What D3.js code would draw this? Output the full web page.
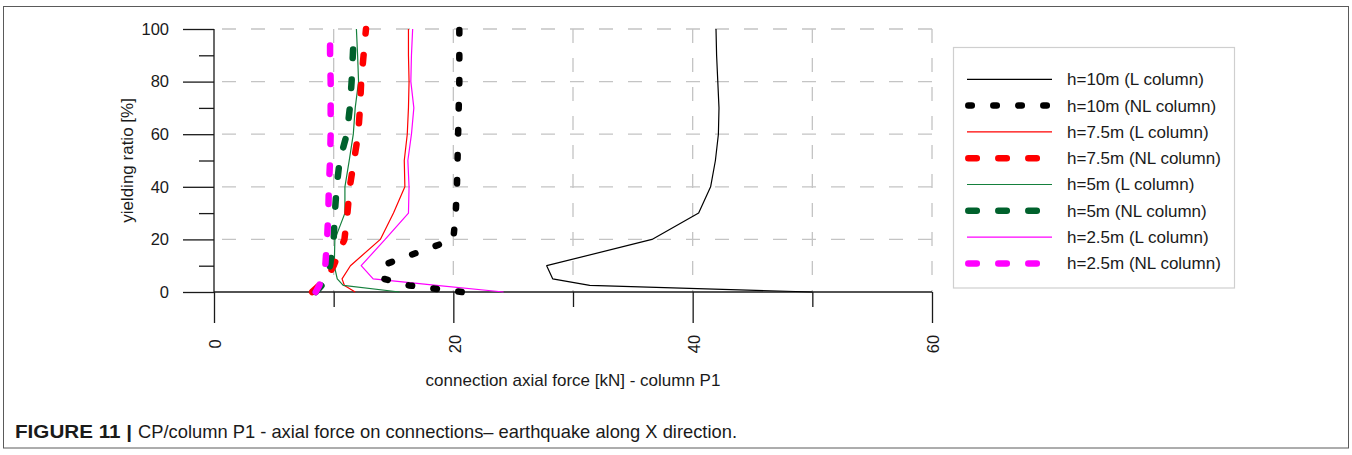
<!DOCTYPE html>
<html>
<head>
<meta charset="utf-8">
<script src="https://cdn.jsdelivr.net/npm/d3@7"></script>
<style>
  html, body { margin: 0; padding: 0; background: #fff; }
  svg { display: block; }
  text { font-family: "Liberation Sans", Arial, sans-serif; fill: #1a1a1a; }
</style>
</head>
<body>
<svg id="chart" width="1352" height="455"></svg>
<script>
// Yielding ratio levels (%) at which the connection force was recorded
const yieldLevels = [0, 2.5, 5, 10, 20, 30, 40, 50, 60, 70, 80, 90, 100];

// Connection axial force [kN], one value per yielding level
const h10_L  = [50.0, 31.4, 28.3, 27.8, 36.6, 40.5, 41.5, 41.9, 42.15, 42.2, 42.1, 42.0, 41.95];
const h10_NL = [20.7, 16.3, 14.2, 14.0, 20.0, 20.2, 20.3, 20.35, 20.4, 20.45, 20.5, 20.5, 20.5];
const h75_L  = [11.8, 10.9, 10.7, 11.4, 13.9, 15.0, 15.95, 15.9, 16.15, 16.25, 16.3, 16.25, 16.25];
const h75_NL = [8.2, 8.8, 9.4, 10.0, 10.9, 11.15, 11.35, 11.7, 12.05, 12.2, 12.3, 12.5, 12.7];
const h5_L   = [15.5, 10.8, 10.3, 10.05, 10.1, 10.94, 10.94, 11.3, 11.64, 11.8, 12.08, 12.0, 11.9];
const h5_NL  = [8.5, 9.0, 9.4, 9.7, 10.0, 10.1, 10.25, 10.5, 11.1, 11.35, 11.5, 11.6, 11.7];
const h25_L  = [24.2, 18.6, 13.3, 12.3, 14.3, 16.25, 16.3, 16.2, 16.5, 16.7, 16.45, 16.5, 16.6];
const h25_NL = [8.5, 8.8, 9.0, 9.3, 9.45, 9.55, 9.6, 9.7, 9.75, 9.75, 9.75, 9.7, 9.7];

const seriesNames = [
  "h=10m (L column)", "h=10m (NL column)",
  "h=7.5m (L column)", "h=7.5m (NL column)",
  "h=5m (L column)", "h=5m (NL column)",
  "h=2.5m (L column)", "h=2.5m (NL column)"
];

const xMajorTicks = [0, 20, 40, 60];
const xMinorTicks = [10, 30, 50];
const xGridTicks = [10, 20, 30, 40, 50, 60];
const yMajorTicks = [0, 20, 40, 60, 80, 100];
const yMinorTicks = [10, 30, 50, 70, 90];
const yGridTicks = [20, 40, 60, 80, 100];

const xTitle = "connection axial force [kN] - column P1";
const yTitle = "yielding ratio [%]";
const captionBold = "FIGURE 11 |";
const captionText = "CP/column P1 - axial force on connections\u2013 earthquake along X direction.";

// Line styles: thin solid for linear columns, thick rounded dashes for non-linear ones
const styles = [
  { color: "#000000", width: 1.2, dash: null },
  { color: "#000000", width: 6.5, dash: "3.5 21.5" },
  { color: "#ff0000", width: 1.2, dash: null },
  { color: "#ff0000", width: 6.5, dash: "8.5 21.5" },
  { color: "#15803d", width: 1.2, dash: null },
  { color: "#00612c", width: 6.5, dash: "8.5 21.5" },
  { color: "#ff00ff", width: 1.2, dash: null },
  { color: "#ff00ff", width: 6.5, dash: "8.5 21.5" }
];
const seriesValues = [h10_L, h10_NL, h75_L, h75_NL, h5_L, h5_NL, h25_L, h25_NL];

const svg = d3.select("#chart");

// Figure frame
svg.append("rect")
  .attr("x", 3.5).attr("y", 6.5).attr("width", 1345).attr("height", 441.5)
  .attr("fill", "none").attr("stroke", "#5a5a5a").attr("stroke-width", 1);

const x = d3.scaleLinear().domain([0, 60]).range([214, 932]);
const y = d3.scaleLinear().domain([0, 100]).range([292, 29]);

// Dashed grid
const grid = svg.append("g").attr("stroke", "#c4c4c4").attr("stroke-width", 1.3)
  .attr("stroke-dasharray", "14 15").attr("fill", "none");
grid.selectAll("line.h").data(yGridTicks).join("line")
  .attr("x1", x(60)).attr("x2", x(0))
  .attr("y1", d => y(d)).attr("y2", d => y(d));
grid.selectAll("line.v").data(xGridTicks).join("line")
  .attr("x1", d => x(d)).attr("x2", d => x(d))
  .attr("y1", y(100)).attr("y2", y(0));

// Y axis (major and minor ticks)
const yAxisG = svg.append("g").attr("transform", `translate(${x(0)},0)`);
yAxisG.call(d3.axisLeft(y).tickValues(yMajorTicks).tickSize(31).tickPadding(14).tickFormat(d3.format("d")))
  .call(g => g.select(".domain").remove());
yAxisG.append("g").call(d3.axisLeft(y).tickValues(yMinorTicks).tickSize(15).tickFormat(""))
  .call(g => g.select(".domain").remove());
yAxisG.selectAll("line").attr("stroke", "#1a1a1a").attr("stroke-width", 1.3);
yAxisG.selectAll("text").attr("font-size", 16.5).attr("fill", "#1a1a1a")
  .style("font-family", '"Liberation Sans", Arial, sans-serif');

// X axis hanging below the zero line, rotated labels
const xAxisG = svg.append("g").attr("transform", `translate(0,${y(0)})`);
xAxisG.call(d3.axisBottom(x).tickValues(xMajorTicks).tickSize(31).tickFormat(d3.format("d")))
  .call(g => g.select(".domain").remove());
xAxisG.append("g").call(d3.axisBottom(x).tickValues(xMinorTicks).tickSize(15).tickFormat(""))
  .call(g => g.select(".domain").remove());
xAxisG.selectAll("line").attr("stroke", "#1a1a1a").attr("stroke-width", 1.3);
xAxisG.selectAll(".tick text")
  .attr("x", 0).attr("y", 0).attr("dy", "0.35em")
  .attr("transform", "translate(1,52) rotate(-90)")
  .attr("text-anchor", "middle")
  .attr("font-size", 16.5).attr("fill", "#1a1a1a")
  .style("font-family", '"Liberation Sans", Arial, sans-serif');

// Axis lines: vertical y axis and the zero baseline
svg.append("line")
  .attr("x1", x(0)).attr("x2", x(0)).attr("y1", y(100)).attr("y2", y(0))
  .attr("stroke", "#1a1a1a").attr("stroke-width", 1.3);
svg.append("line")
  .attr("x1", x(0)).attr("x2", x(60)).attr("y1", y(0)).attr("y2", y(0))
  .attr("stroke", "#1a1a1a").attr("stroke-width", 1.3);

// Axis titles
svg.append("text")
  .attr("x", (x(0) + x(60)) / 2).attr("y", 380).attr("dy", "0.35em")
  .attr("text-anchor", "middle").attr("font-size", 17)
  .text(xTitle);
svg.append("text")
  .attr("transform", `translate(127,${(y(0) + y(100)) / 2}) rotate(-90)`)
  .attr("dy", "0.35em").attr("text-anchor", "middle").attr("font-size", 17)
  .text(yTitle);

// Data lines: solid series first, dashed series on top
const line = d3.line().x(d => x(d[0])).y(d => y(d[1]));
const drawOrder = [0, 2, 4, 6, 1, 3, 5, 7];
const plotG = svg.append("g");
drawOrder.forEach(i => {
  const pts = yieldLevels.map((lv, k) => [seriesValues[i][k], lv]);
  const st = styles[i];
  plotG.append("path")
    .attr("d", line(pts))
    .attr("fill", "none")
    .attr("stroke", st.color)
    .attr("stroke-width", st.width)
    .attr("stroke-linecap", st.dash ? "round" : "butt")
    .attr("stroke-linejoin", "round")
    .attr("stroke-dasharray", st.dash);
});

// Legend
const legend = svg.append("g");
legend.append("rect")
  .attr("x", 953.5).attr("y", 47.5).attr("width", 281).attr("height", 240.5)
  .attr("fill", "#fff").attr("stroke", "#cfcfcf").attr("stroke-width", 1.2);
seriesNames.forEach((name, i) => {
  const ly = 79.3 + i * 26.3;
  const st = styles[i];
  legend.append("line")
    .attr("x1", st.dash ? 968.3 : 967).attr("x2", 1052)
    .attr("y1", ly).attr("y2", ly)
    .attr("stroke", st.color)
    .attr("stroke-width", st.dash ? st.width : 1.2)
    .attr("stroke-linecap", st.dash ? "round" : "butt")
    .attr("stroke-dasharray", st.dash);
  legend.append("text")
    .attr("x", 1067).attr("y", ly).attr("dy", "0.35em")
    .attr("font-size", 17)
    .text(name);
});

// Caption (condensed face, widths fixed so the line keeps its span)
const capFont = '"Liberation Sans Narrow", "Arial Narrow", "Liberation Sans", sans-serif';
svg.append("text").attr("x", 15).attr("y", 437.5).attr("font-size", 18.5)
  .attr("font-weight", "bold")
  .attr("textLength", 117).attr("lengthAdjust", "spacingAndGlyphs")
  .style("font-family", capFont)
  .text(captionBold);
svg.append("text").attr("x", 138).attr("y", 437.5).attr("font-size", 18.5)
  .attr("textLength", 599).attr("lengthAdjust", "spacingAndGlyphs")
  .style("font-family", capFont)
  .text(captionText);
</script>
</body>
</html>
